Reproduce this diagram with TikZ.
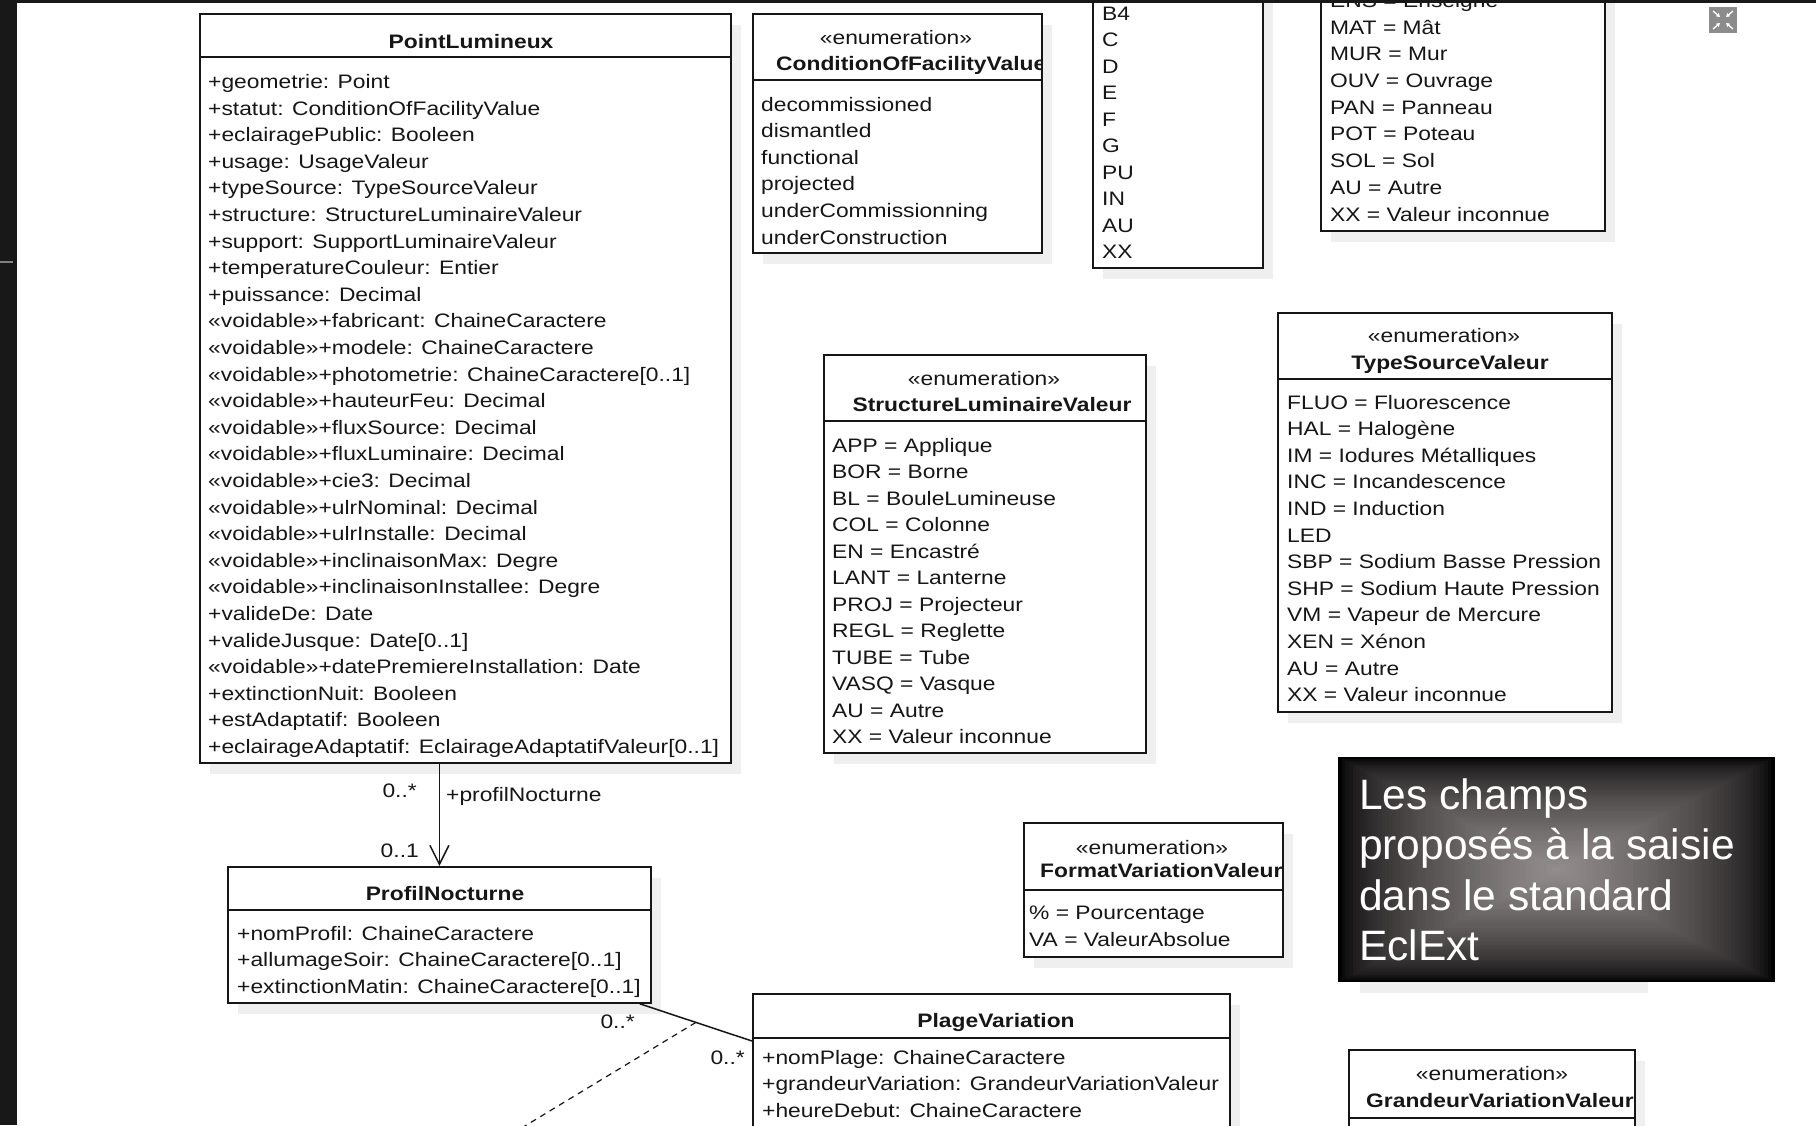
\documentclass[tikz,border=0pt]{standalone}
\usepackage{fontspec}
\setmainfont{Liberation Sans}
\newfontfamily\umlfont[FakeStretch=1.17]{Liberation Sans}
\usetikzlibrary{arrows.meta,calc}
\definecolor{ink}{HTML}{161616}
\definecolor{shadowgray}{HTML}{EFEFEF}
\definecolor{glow}{HTML}{948D8D}
\definecolor{icongray}{HTML}{8C8C8C}
\definecolor{strip}{HTML}{181818}
\newcommand\umlsize{\fontsize{19.5}{26.6}\selectfont}
\tikzset{
  umlbox/.style={draw=ink, line width=1.8pt, fill=white, inner sep=0pt, anchor=north west},
  boxshadow/.style={fill=shadowgray, draw=none},
  txt/.style={anchor=base west, inner sep=0pt, text=ink, font=\umlfont\umlsize},
  ttl/.style={anchor=base, inner sep=0pt, text=ink, font=\umlfont\bfseries\umlsize},
  ster/.style={anchor=base, inner sep=0pt, text=ink, font=\umlfont\umlsize},
  sepline/.style={draw=ink, line width=1.8pt},
  assoc/.style={draw=ink, line width=1.5pt},
  lblE/.style={anchor=base east, inner sep=0pt, text=ink, font=\umlfont\umlsize},
  lblW/.style={anchor=base west, inner sep=0pt, text=ink, font=\umlfont\umlsize},
  notetext/.style={anchor=base west, inner sep=0pt, text=white, font=\fontsize{42.5}{47}\selectfont},
}
% name, x1, y1, x2, y2, y of header line
\newcommand\umlclassbox[6]{%
  \fill[boxshadow] (#2+11,#3+12) rectangle (#4+11,#5+12);
  \node[umlbox, minimum width=#4-#2, minimum height=#5-(#3)] (#1) at (#2,#3) {};
  \draw[sepline] (#2,#6) -- (#4,#6);
}
% prefix, x, first baseline, pitch, list
\newcommand\umlrows[5]{%
  \foreach \rowtext [count=\i from 0] in {#5} {\node[txt] (#1\i) at (#2,#3+\i*#4) {\rowtext};}
}
\begin{document}
\begin{tikzpicture}[x=1pt,y=-1pt]
\useasboundingbox (0,0) rectangle (1816,1125);
\clip (0,0) rectangle (1816,1125);
\fill[white] (0,0) rectangle (1816,1125);

% ---------- PointLumineux ----------
\umlclassbox{PL}{199}{13}{730}{762}{57}
\node[ttl] (PLt) at (471,48) {PointLumineux};
\umlrows{PLr}{208}{88.5}{26.6}{{+geometrie: Point},{+statut: ConditionOfFacilityValue},{+eclairagePublic: Booleen},{+usage: UsageValeur},{+typeSource: TypeSourceValeur},{+structure: StructureLuminaireValeur},{+support: SupportLuminaireValeur},{+temperatureCouleur: Entier},{+puissance: Decimal},{«voidable»+fabricant: ChaineCaractere},{«voidable»+modele: ChaineCaractere},{«voidable»+photometrie: ChaineCaractere[0..1]},{«voidable»+hauteurFeu: Decimal},{«voidable»+fluxSource: Decimal},{«voidable»+fluxLuminaire: Decimal},{«voidable»+cie3: Decimal},{«voidable»+ulrNominal: Decimal},{«voidable»+ulrInstalle: Decimal},{«voidable»+inclinaisonMax: Degre},{«voidable»+inclinaisonInstallee: Degre},{+valideDe: Date},{+valideJusque: Date[0..1]},{«voidable»+datePremiereInstallation: Date},{+extinctionNuit: Booleen},{+estAdaptatif: Booleen},{+eclairageAdaptatif: EclairageAdaptatifValeur[0..1]}}

% ---------- ConditionOfFacilityValue ----------
\umlclassbox{CF}{752}{13}{1041}{252}{80}
\node[ster] (CFs) at (896,44) {«enumeration»};
\begin{scope}
  \clip (752,13) rectangle (1041,80);
  \node[ttl, anchor=base west] (CFt) at (776,70) {ConditionOfFacilityValue};
\end{scope}
\umlrows{CFr}{761}{111}{26.6}{{decommissioned},{dismantled},{functional},{projected},{underCommissionning},{underConstruction}}

% ---------- box with B4 ... XX ----------
\umlclassbox{CL}{1092}{-300}{1262}{267}{-280}
\umlrows{CLr}{1102}{20}{26.5}{{B4},{C},{D},{E},{F},{G},{PU},{IN},{AU},{XX}}

% ---------- box with ENS ... XX ----------
\umlclassbox{SU}{1320}{-300}{1604}{230}{-280}
\umlrows{SUr}{1330}{7.4}{26.7}{{ENS = Enseigne},{MAT = Mât},{MUR = Mur},{OUV = Ouvrage},{PAN = Panneau},{POT = Poteau},{SOL = Sol},{AU = Autre},{XX = Valeur inconnue}}

% ---------- StructureLuminaireValeur ----------
\umlclassbox{SL}{823}{354}{1145}{752}{421}
\node[ster] (SLs) at (984,385) {«enumeration»};
\node[ttl] (SLt) at (992,411) {StructureLuminaireValeur};
\umlrows{SLr}{832}{452}{26.5}{{APP = Applique},{BOR = Borne},{BL = BouleLumineuse},{COL = Colonne},{EN = Encastré},{LANT = Lanterne},{PROJ = Projecteur},{REGL = Reglette},{TUBE = Tube},{VASQ = Vasque},{AU = Autre},{XX = Valeur inconnue}}

% ---------- TypeSourceValeur ----------
\umlclassbox{TS}{1277}{312}{1611}{711}{379}
\node[ster] (TSs) at (1444,342) {«enumeration»};
\node[ttl] (TSt) at (1450,369) {TypeSourceValeur};
\umlrows{TSr}{1287}{409}{26.6}{{FLUO = Fluorescence},{HAL = Halogène},{IM = Iodures Métalliques},{INC = Incandescence},{IND = Induction},{LED},{SBP = Sodium Basse Pression},{SHP = Sodium Haute Pression},{VM = Vapeur de Mercure},{XEN = Xénon},{AU = Autre},{XX = Valeur inconnue}}

% ---------- FormatVariationValeur ----------
\umlclassbox{FV}{1023}{822}{1282}{956}{890}
\node[ster] (FVs) at (1152,854) {«enumeration»};
\begin{scope}
  \clip (1023,822) rectangle (1282,890);
  \node[ttl, anchor=base west] (FVt) at (1040,877) {FormatVariationValeur};
\end{scope}
\umlrows{FVr}{1029}{919.5}{26.6}{{\% = Pourcentage},{VA = ValeurAbsolue}}

% ---------- GrandeurVariationValeur ----------
\umlclassbox{GV}{1348}{1049}{1634}{1400}{1118}
\node[ster] (GVs) at (1492,1080) {«enumeration»};
\begin{scope}
  \clip (1348,1049) rectangle (1634,1118);
  \node[ttl, anchor=base west] (GVt) at (1366,1107) {GrandeurVariationValeur};
\end{scope}

% ---------- ProfilNocturne ----------
\umlclassbox{PN}{227}{866}{650}{1002}{910}
\node[ttl] (PNt) at (445,900) {ProfilNocturne};
\umlrows{PNr}{237}{940}{26.7}{{+nomProfil: ChaineCaractere},{+allumageSoir: ChaineCaractere[0..1]},{+extinctionMatin: ChaineCaractere[0..1]}}

% ---------- PlageVariation ----------
\umlclassbox{PV}{752}{993}{1229}{1400}{1038}
\node[ttl] (PVt) at (996,1027) {PlageVariation};
\umlrows{PVr}{762}{1064}{26.5}{{+nomPlage: ChaineCaractere},{+grandeurVariation: GrandeurVariationValeur},{+heureDebut: ChaineCaractere}}

% ---------- associations ----------
\draw[assoc, -{Straight Barb[length=19pt,width=19pt,line width=1.5pt]}] (PN.north |- PL.south) -- (PN.north);
\node[lblE] (m1) at (417,797) {0..*};
\node[lblW] (role) at (446,801) {+profilNocturne};
\node[lblE] (m2) at (419,857) {0..1};

\draw[assoc] ([xshift=-12pt]PN.south east) -- coordinate[pos=0.5] (mid) ([yshift=-48pt]PV.north west);
\node[lblE] (m3) at (635,1028) {0..*};
\node[lblE] (m4) at (745,1064) {0..*};
\coordinate (dashend) at (515,1132);
\draw[assoc, line width=1.2pt, dash pattern=on 6pt off 5pt] (mid) -- (dashend);

% ---------- note with rectangular gradient ----------
\fill[shadowgray] (1360,970) rectangle (1648,993);
\foreach \k in {0,...,59}{%
  \pgfmathsetmacro\sc{1-\k/60}%
  \pgfmathtruncatemacro\pc{100*(\k/59)^0.6}%
  \fill[glow!\pc!black] (1556.5-218.5*\sc, 869.5-112.5*\sc) rectangle (1556.5+218.5*\sc, 869.5+112.5*\sc);
}
\node[notetext] (n1) at (1359,809) {Les champs};
\node[notetext] (n2) at (1359,859.5) {proposés à la saisie};
\node[notetext] (n3) at (1359,910) {dans le standard};
\node[notetext] (n4) at (1359,960.5) {EclExt};

% ---------- collapse icon ----------
\fill[icongray] (1709,7) rectangle (1737,33);
\begin{scope}[white, line width=1.3pt, -{Triangle[length=3.5pt,width=4pt]}]
  \draw (1713,11) -- (1720,17);
  \draw (1733,11) -- (1726,17);
  \draw (1713,29) -- (1720,23);
  \draw (1733,29) -- (1726,23);
\end{scope}

% ---------- window edges ----------
\fill[strip] (0,0) rectangle (17,1125);
\fill[strip] (0,0) rectangle (1816,3);
\draw[gray, line width=1.5pt] (0,262) -- (13,262);
\end{tikzpicture}
\end{document}
